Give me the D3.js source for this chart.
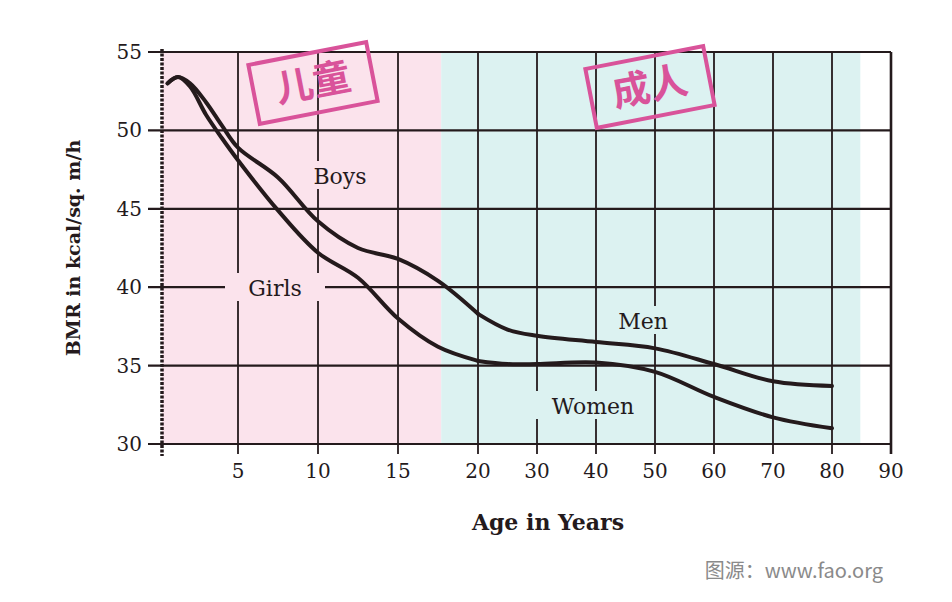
<!DOCTYPE html>
<html><head><meta charset="utf-8">
<script src="https://cdn.jsdelivr.net/npm/d3@7"></script>
<style>body{margin:0;background:#fff}</style></head>
<body><svg id="c" width="952" height="602"></svg>
<script>
const xTicks=[5,10,15,20,30,40,50,60,70,80,90];
const yTicks=[30,35,40,45,50,55];
const boysAge=[0.6,1.25,2,3,4,5,7.5,10,12.5,15,17.5,20];
const boysBMR=[53.0,53.4,53.0,51.8,50.3,48.9,47.0,44.2,42.5,41.8,40.4,38.3];
const girlsAge=[0.6,1.25,2,3,4,5,7.5,10,12.5,15,17.5,20];
const girlsBMR=[53.0,53.4,52.8,51.0,49.5,48.1,44.9,42.2,40.6,38.0,36.2,35.3];
const menAge=[20,25,30,40,50,60,70,80];
const menBMR=[38.3,37.3,36.9,36.5,36.1,35.1,34.0,33.7];
const womenAge=[20,25,30,40,50,60,70,80];
const womenBMR=[35.3,35.1,35.1,35.2,34.6,33.0,31.7,31.0];

const svg=d3.select("#c");
const x=d3.scaleLinear().domain([0,20,90]).range([158,478,891]);
const y=d3.scaleLinear().domain([30,55]).range([444,52]);
const ink="#241a1c";
svg.append("rect").attr("x",x(0.25)).attr("y",y(55)).attr("width",x(17.7)-x(0.25)).attr("height",y(30)-y(55)).attr("fill","#fbe3ec");
svg.append("rect").attr("x",x(17.7)).attr("y",y(55)).attr("width",x(84.8)-x(17.7)).attr("height",y(30)-y(55)).attr("fill","#dcf2f1");
const g=svg.append("g");
g.selectAll(".h").data(yTicks).join("line").attr("x1",148).attr("x2",x(90)).attr("y1",d=>y(d)).attr("y2",d=>y(d)).attr("stroke",ink).attr("stroke-width",2.2);
g.selectAll(".v").data(xTicks).join("line").attr("x1",d=>x(d)).attr("x2",d=>x(d)).attr("y1",y(55)).attr("y2",y(30)+10).attr("stroke",ink).attr("stroke-width",d=>d===90?2.6:1.8);
g.append("line").attr("x1",x(0.25)).attr("x2",x(0.25)).attr("y1",y(55)-3).attr("y2",y(30)+12).attr("stroke",ink).attr("stroke-width",3.5).attr("stroke-dasharray","3,1.5");
const font="'DejaVu Serif','Liberation Serif',serif";
svg.selectAll(".yl").data(yTicks).join("text").attr("x",142).attr("y",d=>y(d)+7).attr("text-anchor","end").attr("font-family",font).attr("font-size",20).attr("fill",ink).text(d=>d);
svg.selectAll(".xl").data(xTicks).join("text").attr("x",d=>x(d)).attr("y",478).attr("text-anchor","middle").attr("font-family",font).attr("font-size",20).attr("fill",ink).text(d=>d);
svg.append("text").attr("transform","translate(80,248) rotate(-90)").attr("text-anchor","middle").attr("font-family",font).attr("font-weight","bold").attr("font-size",19).attr("fill",ink).text("BMR in kcal/sq. m/h");
svg.append("text").attr("x",548).attr("y",530).attr("text-anchor","middle").attr("font-family",font).attr("font-weight","bold").attr("font-size",22).attr("fill",ink).text("Age in Years");
const line=d3.line().x(d=>x(d[0])).y(d=>y(d[1])).curve(d3.curveCatmullRom.alpha(0.5));
const series=[[boysAge,boysBMR],[girlsAge,girlsBMR],[menAge,menBMR],[womenAge,womenBMR]];
series.forEach(([a,b])=>svg.append("path").attr("d",line(a.map((v,i)=>[v,b[i]]))).attr("fill","none").attr("stroke",ink).attr("stroke-width",4).attr("stroke-linecap","round"));
function lab(t,cx,cy,bg,w){
  svg.append("rect").attr("x",cx-w/2).attr("y",cy-15).attr("width",w).attr("height",28).attr("fill",bg);
  svg.append("text").attr("x",cx).attr("y",cy+8).attr("text-anchor","middle").attr("font-family",font).attr("font-size",22).attr("fill",ink).text(t);
}
lab("Boys",340,176,"#fbe3ec",80);
lab("Girls",275,288,"#fbe3ec",100);
lab("Men",643,321,"#dcf2f1",70);
lab("Women",593,406,"#dcf2f1",115);
function stamp(t,cx,cy){
  const s=svg.append("g").attr("transform",`translate(${cx},${cy}) rotate(-11)`);
  s.append("rect").attr("x",-60).attr("y",-30).attr("width",120).attr("height",60).attr("fill","none").attr("stroke","#d9539a").attr("stroke-width",4);
  s.append("text").attr("x",0).attr("y",13).attr("text-anchor","middle").attr("font-family","'Noto Sans CJK SC'").attr("font-weight","bold").attr("font-size",38).attr("fill","#d9539a").text(t);
}
stamp("儿童",313,83);
stamp("成人",650,87);
svg.append("text").attr("x",883).attr("y",578).attr("text-anchor","end").attr("font-family","'Noto Sans CJK SC'").attr("font-size",20).attr("fill","#8a8a8a").text("图源：www.fao.org");
</script></body></html>
